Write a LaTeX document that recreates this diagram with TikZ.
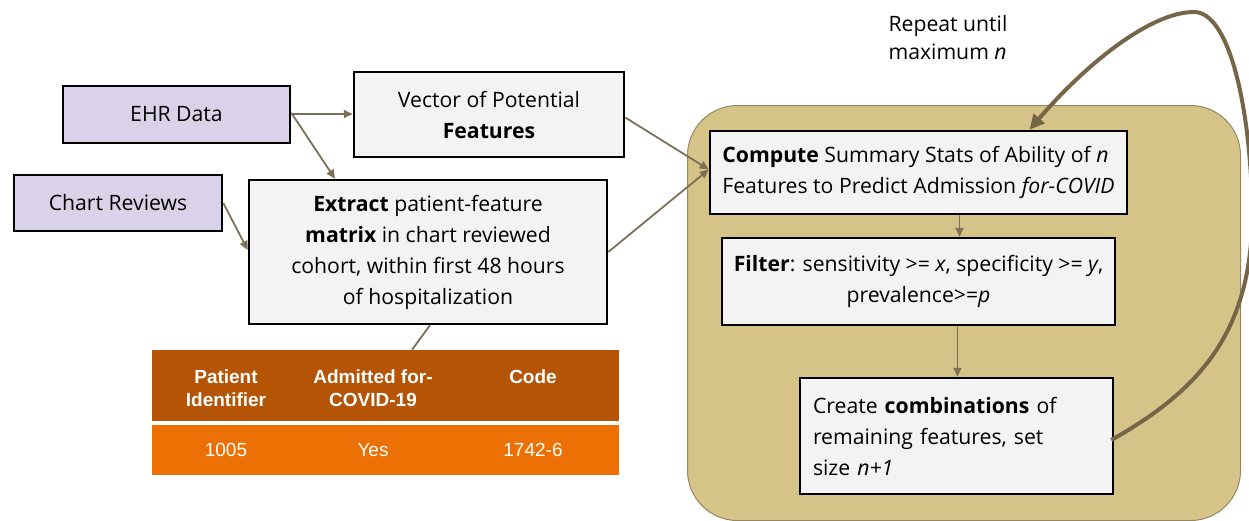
\documentclass[tikz,border=0pt]{standalone}
\usepackage{fontspec}
\setmainfont{Open Sans}
\newfontfamily\tabfont{Liberation Sans}
\usetikzlibrary{arrows.meta}
\definecolor{lav}{RGB}{217,210,233}
\definecolor{boxgray}{RGB}{243,243,243}
\definecolor{tanbg}{RGB}{214,195,135}
\definecolor{tanedge}{RGB}{150,135,100}
\definecolor{arr}{RGB}{125,112,88}
\definecolor{loopc}{RGB}{118,102,72}
\definecolor{theadc}{RGB}{180,84,4}
\definecolor{trowc}{RGB}{236,112,4}
\begin{document}
\begin{tikzpicture}[x=1pt,y=1pt,
  box/.style={draw=black, line width=2.5pt, fill=boxgray, inner sep=0pt, align=center,
              font=\fontsize{21.2}{31}\selectfont},
  srcbox/.style={box, fill=lav},
  conn/.style={draw=arr, line width=1.8pt, -{Triangle[length=9pt,width=8pt]}},
  plainconn/.style={draw=arr, line width=1.8pt},
  loopconn/.style={draw=loopc, line width=4pt, -{Triangle[length=15pt,width=14pt]}},
  tabhead/.style={text=white, font=\tabfont\bfseries\fontsize{19}{23}\selectfont, align=center},
  tabcell/.style={text=white, font=\tabfont\fontsize{19}{23}\selectfont, align=center},
  lbl/.style={font=\fontsize{21.2}{28}\selectfont, align=left}
]
\useasboundingbox (0,0) rectangle (1249,-520);

% background group
\node[draw=tanedge, line width=1pt, fill=tanbg, rounded corners=50pt, minimum width=553pt,
      minimum height=415pt, inner sep=0pt] (group) at (964,-313) {};

% nodes
\node[srcbox, minimum width=227pt, minimum height=57pt] (ehr) at (176.5,-114.5) {EHR Data};
\node[srcbox, minimum width=208pt, minimum height=56pt] (chart) at (118,-203) {Chart Reviews};
\node[box, minimum width=270pt, minimum height=85pt] (vec) at (489,-114.5)
  {Vector of Potential\\\textbf{Features}};
\node[box, minimum width=358pt, minimum height=144pt] (extract) at (428,-252)
  {\textbf{Extract} patient-feature\\\textbf{matrix} in chart reviewed\\cohort, within first 48 hours\\of hospitalization};
\node[box, minimum width=417pt, minimum height=83pt, align=left] (compute) at (918.5,-172.5)
  {\textbf{Compute} Summary Stats of Ability of \textit{n}\\Features to Predict Admission \textit{for-COVID}};
\node[box, minimum width=393pt, minimum height=87pt] (filter) at (918.5,-281.5)
  {\textbf{Filter}: sensitivity >= \textit{x}, specificity >= \textit{y},\\prevalence>=\textit{p}};
\node[box, minimum width=313pt, minimum height=116pt, align=left, text width=287pt] (create) at (956.5,-436)
  {Create \textbf{combinations} of\\remaining features, set\\size \textit{n+1}};
\node[lbl, anchor=north west] (repeat) at (885,-12) {Repeat until\\maximum \textit{n}};

% table
\node[fill=theadc, minimum width=467pt, minimum height=71pt, inner sep=0pt] (thead) at (385.5,-385.5) {};
\node[fill=trowc, minimum width=467pt, minimum height=50pt, inner sep=0pt] (trow) at (385.5,-450) {};
\node[tabhead] (h1) at (226,-388) {Patient\\Identifier};
\node[tabhead] (h2) at (373,-388) {Admitted for-\\COVID-19};
\node[tabhead] (h3) at (533,-377) {Code};
\node[tabcell] (r1) at (226,-450) {1005};
\node[tabcell] (r2) at (373,-450) {Yes};
\node[tabcell] (r3) at (533,-450) {1742-6};

% connectors
\draw[conn] (ehr.east |- 0,-114) -- (vec.west |- 0,-114);
\draw[conn] (ehr.north east) ++(0,-28) coordinate (e1) -- ([xshift=-93pt]extract.north);
\draw[conn] (chart.east) -- ([yshift=2pt]extract.west);
\draw[conn] ([yshift=-3pt]vec.east) -- ([yshift=3pt]compute.west);
\draw[conn] (extract.east) -- ([yshift=3pt]compute.west);
\draw[plainconn] ([xshift=2pt]extract.south) -- ([xshift=26.5pt]thead.north);
\draw[conn] ([xshift=41pt]compute.south) -- ([xshift=41pt]filter.south |- filter.north);
\draw[conn] ([xshift=39pt]filter.south) -- ([xshift=39pt]filter.south |- create.north);
\draw[loopconn] ([xshift=-3pt,yshift=-4pt]create.east) .. controls (1200,-390) and (1256,-330) .. (1252,-200)
  .. controls (1249,-100) and (1228,-12) .. (1194,-12)
  .. controls (1150,-12) and (1085,-65) .. ([xshift=111pt]compute.north);
\end{tikzpicture}
\end{document}
